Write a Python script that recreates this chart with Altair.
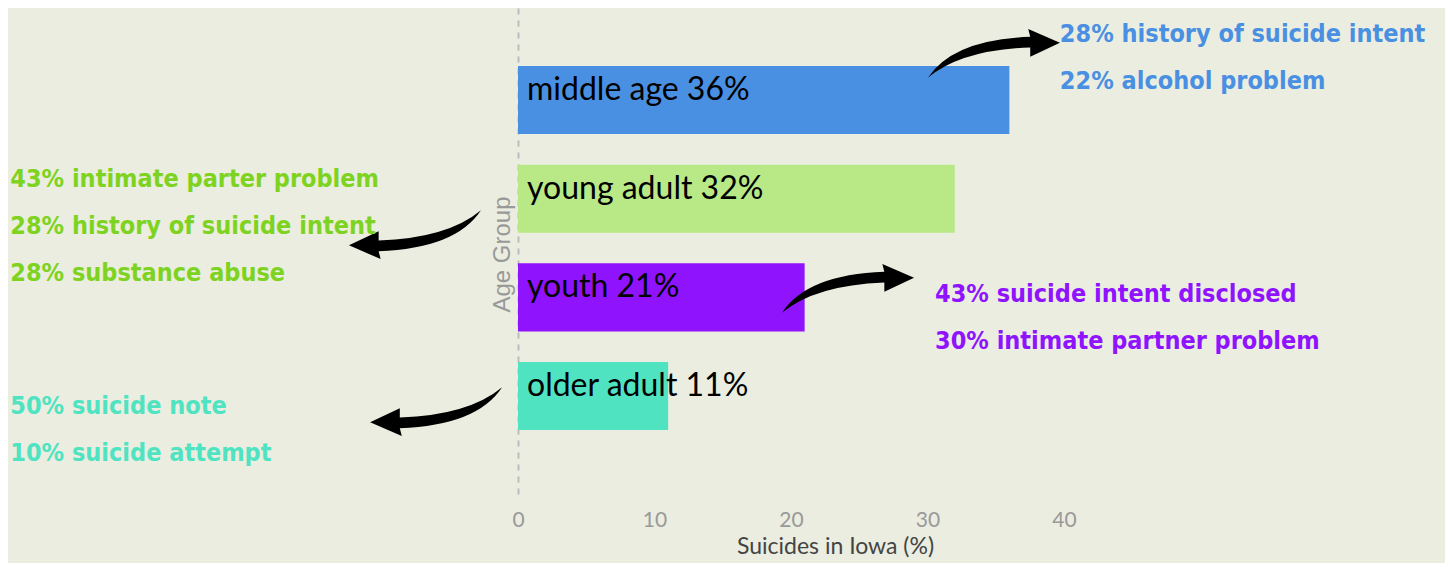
import altair as alt
import pandas as pd

# ---- data -------------------------------------------------------------
categories = ["middle age", "young adult", "youth", "older adult"]
values = [36, 32, 21, 11]
bar_colors = ["#4a90e2", "#b8e986", "#9013fe", "#50e3c2"]
note_texts = [
    "28% history of suicide intent\n22% alcohol problem",
    "43% intimate parter problem\n28% history of suicide intent\n28% substance abuse",
    "43% suicide intent disclosed\n30% intimate partner problem",
    "50% suicide note\n10% suicide attempt",
]
note_colors = ["#4a90e2", "#7ed321", "#9013fe", "#50e3c2"]
x_ticks = [0, 10, 20, 30, 40]

# annotation anchors: x in data units, y relative to the row of the group
note_x = [39.7, -37.2, 30.55, -37.2]
note_dy = [-0.588, -0.119, 0.047, 0.181]
arrow_x = [34.87, -7.55, 24.18, -6.0]
arrow_dy = [-0.466, 0.358, -0.085, 0.151]
arrow_rot = [0, 180, 0, 180]

df = pd.DataFrame({
    "cat": categories,
    "value": values,
    "row": list(range(len(categories))),
    "note": note_texts,
    "note_color": note_colors,
    "note_x": note_x,
    "note_dy": note_dy,
    "arrow_x": arrow_x,
    "arrow_dy": arrow_dy,
    "arrow_rot": arrow_rot,
})

ARROW = ("M -1 0.36 Q -0.62 -0.22 0.55 -0.26 L 0.52 -0.38 L 1 -0.17 "
         "L 0.55 0.04 L 0.55 -0.1 Q -0.5 -0.06 -1 0.36 Z")

xs = alt.Scale(domain=[0, 46.45], nice=False, zero=False)
ys = alt.Scale(domain=[-0.932, 4.053], nice=False, zero=False, reverse=True)

xaxis = alt.Axis(values=x_ticks, domain=False, ticks=False, grid=False,
                 labelColor="#999999", labelFontSize=21, labelFont="Lato",
                 labelPadding=9, labelFlush=False,
                 title="Suicides in Iowa (%)", titleColor="#444444",
                 titleFontSize=23, titleFont="Lato", titleFontWeight="normal",
                 titlePadding=5)
yaxis = alt.Axis(labels=False, ticks=False, grid=False,
                 domainDash=[6, 6], domainColor="#bdbdbd", domainWidth=2,
                 title="Age Group", titleColor="#999999", titleFontSize=24,
                 titleFont="Liberation Sans", titleFontWeight="normal",
                 titlePadding=4)


def X(f):
    return alt.X(f, type="quantitative", scale=xs, axis=xaxis)


def Y(f):
    return alt.Y(f, type="quantitative", scale=ys, axis=yaxis)


base = alt.Chart(df).transform_calculate(
    zero="0",
    y0="datum.row - 0.345",
    y1="datum.row + 0.345",
    label="datum.cat + ' ' + datum.value + '%'",
    ny="datum.row + datum.note_dy",
    ay="datum.row + datum.arrow_dy",
)

bars = base.mark_bar().encode(
    x=X("zero"),
    x2="value:Q",
    y=Y("y0"),
    y2="y1:Q",
    color=alt.Color("cat:N", scale=alt.Scale(domain=categories, range=bar_colors), legend=None),
)

labels = base.mark_text(align="left", baseline="alphabetic", dx=9,
                        font="Lato", fontSize=32, color="black").encode(
    x=X("zero"),
    y=Y("row"),
    text="label:N",
)

notes = base.mark_text(align="left", baseline="alphabetic",
                       font="DejaVu Sans Condensed, sans-serif",
                       fontSize=25, fontWeight="bold", lineHeight=47,
                       lineBreak="\n").encode(
    x=X("note_x"),
    y=Y("ny"),
    text="note:N",
    color=alt.Color("note_color:N", scale=None),
)

arrows = base.mark_point(shape=ARROW, filled=True, size=17424, color="black",
                         opacity=1, strokeWidth=0).encode(
    x=X("arrow_x"),
    y=Y("ay"),
    angle=alt.Angle("arrow_rot:Q", scale=None),
)

chart = alt.layer(bars, labels, arrows, notes).properties(
    width=634, height=492,
    autosize=alt.AutoSizeParams(type="none"),
    padding={"left": 510, "top": 0, "right": 293, "bottom": 63},
).configure(background="#eaeddf").configure_view(stroke=None)

chart.save("out.html", embed_options={"renderer": "svg", "actions": False})
